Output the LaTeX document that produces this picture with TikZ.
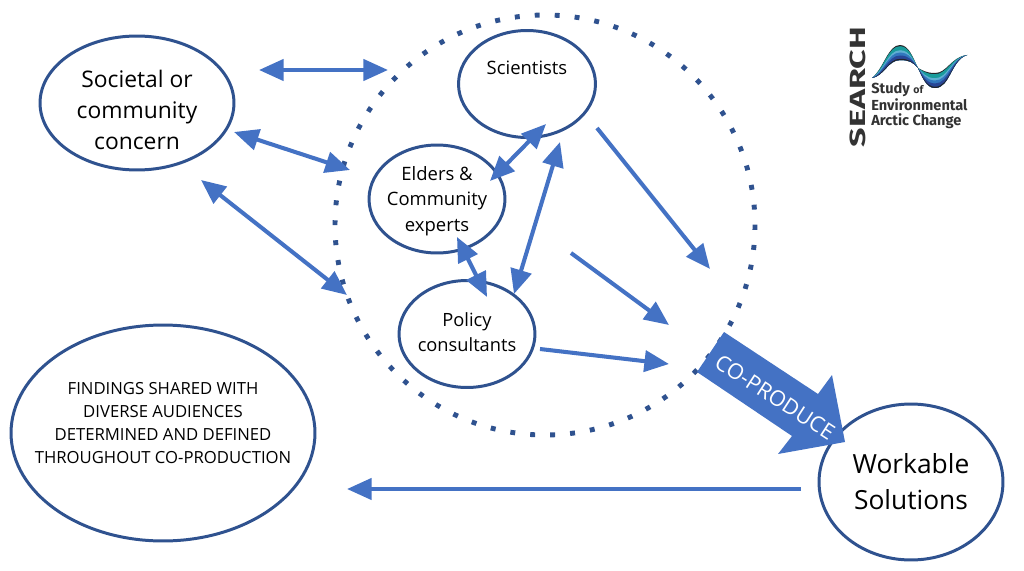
\documentclass[tikz,border=0pt]{standalone}
\usepackage{fontspec}
\setmainfont{Open Sans}
\newfontfamily\logofont{Fira Sans}
\usetikzlibrary{arrows.meta,shapes.geometric}
\definecolor{zx_blue}{RGB}{68, 114, 196}
\definecolor{zx_line}{RGB}{47, 82, 143}
\definecolor{wave_a}{RGB}{25, 155, 155}
\definecolor{wave_b}{RGB}{95, 175, 210}
\definecolor{wave_c}{RGB}{50, 120, 190}
\definecolor{wave_d}{RGB}{40, 70, 150}
\definecolor{wave_e}{RGB}{35, 35, 40}
\tikzstyle{en}=[ellipse,draw=zx_line,fill=white,line width=1.7pt,inner sep=-40pt,align=center]
\tikzstyle{ar}=[draw=zx_blue,line width=2.3pt,-{Triangle[length=14pt,width=12pt]}]
\tikzstyle{br}=[draw=zx_blue,line width=2.3pt,{Triangle[length=14pt,width=12pt]}-{Triangle[length=14pt,width=12pt]}]
\tikzstyle{logotext}=[text=black!80,inner sep=0pt]
\begin{document}
\begin{tikzpicture}[x=0.02cm,y=-0.02cm]
            \useasboundingbox (0,0) rectangle (1024,571);
            \node [style=en, minimum width=3.88cm, minimum height=2.68cm, font=\fontsize{13}{17.6}\selectfont] (0) at (137, 103) {\rule{0pt}{18pt}Societal or\\community\\concern};
            \node [style=en, minimum width=2.74cm, minimum height=2.14cm, font=\fontsize{10.5}{14}\selectfont, text depth=19pt] (1) at (527, 84) {Scientists};
            \node [style=en, minimum width=2.72cm, minimum height=2.16cm, font=\fontsize{10.5}{14.7}\selectfont] (2) at (437, 199) {\rule{0pt}{10.3pt}Elders \&\\Community\\experts};
            \node [style=en, minimum width=2.72cm, minimum height=2.14cm, font=\fontsize{10.4}{14.2}\selectfont] (3) at (467, 334) {Policy\\consultants\rule[-2.3pt]{0pt}{0pt}};
            \node [style=en, minimum width=6.08cm, minimum height=4.32cm, font=\fontsize{9.5}{13.2}\selectfont] (4) at (163, 433) {FINDINGS SHARED WITH\\DIVERSE AUDIENCES\\DETERMINED AND DEFINED\\THROUGHOUT CO-PRODUCTION\rule[-11.3pt]{0pt}{0pt}};
            \node [style=en, minimum width=3.68cm, minimum height=3.12cm, font=\fontsize{15}{20.4}\selectfont] (5) at (911, 482) {Workable\\Solutions};
            \draw [zx_line, line width=2.8pt, dash pattern=on 2.8pt off 8.577pt] (545, 225) circle [radius=210];
            \fill [zx_blue] (724, 332) -- (818, 394) -- (832, 375) -- (845, 442) -- (778, 454) -- (792, 436) -- (697, 372) -- cycle;
            \node [text=white, rotate=-33, inner sep=0pt, font=\fontsize{12.3}{12.3}\selectfont] (6) at (775, 397) {CO-PRODUCE};
            \coordinate (7) at (259, 70);
            \coordinate (8) at (388, 70);
            \coordinate (9) at (234, 132);
            \coordinate (10) at (350, 170);
            \coordinate (11) at (201, 180);
            \coordinate (12) at (347, 295);
            \coordinate (13) at (546, 124);
            \coordinate (14) at (490, 181);
            \coordinate (15) at (560, 142);
            \coordinate (16) at (514, 294);
            \coordinate (17) at (457, 237);
            \coordinate (18) at (487, 297);
            \coordinate (19) at (597, 128);
            \coordinate (20) at (710, 269);
            \coordinate (21) at (571, 253);
            \coordinate (22) at (669, 325);
            \coordinate (23) at (540, 349);
            \coordinate (24) at (669, 364);
            \coordinate (25) at (801, 489);
            \coordinate (26) at (347, 489);
            \draw [style=br] (7) to (8);
            \draw [style=br] (9) to (10);
            \draw [style=br] (11) to (12);
            \draw [style=br] (13) to (14);
            \draw [style=br] (15) to (16);
            \draw [style=br] (17) to (18);
            \draw [style=ar] (19) to (20);
            \draw [style=ar] (21) to (22);
            \draw [style=ar] (23) to (24);
            \draw [style=ar] (25) to (26);
            % logo
            \node [style=logotext, rotate=90, font=\logofont\bfseries\fontsize{12.5}{12.5}\selectfont] (27) at (858, 87) {\scalebox{1.55}[1]{SEARCH}};
            \node [style=logotext, anchor=west, font=\logofont\bfseries\fontsize{8.3}{8.3}\selectfont] (28) at (871, 90) {Study {\fontsize{6}{6}\selectfont of}};
            \node [style=logotext, anchor=west, font=\logofont\bfseries\fontsize{8.3}{8.3}\selectfont] (29) at (871, 105) {Environmental};
            \node [style=logotext, anchor=west, font=\logofont\bfseries\fontsize{8.3}{8.3}\selectfont] (30) at (871, 121) {Arctic Change};
            \foreach \t/\c in {0/wave_e, 0.08/wave_a, 0.35/wave_b, 0.5/wave_c, 0.7/wave_d, 0.92/wave_e}
              \fill [\c] (872, 78) .. controls (884, {68+8*\t}) and (888, {45+15*\t}) .. (900, {45+15*\t})
                .. controls (909, {45+15*\t}) and (913, {58+4*\t}) .. (918, 68)
                .. controls (922, {70+6*\t}) and (926, {73+15*\t}) .. (935, {73+15*\t})
                .. controls ({947+3*\t}, {73+15*\t}) and (951, {57+3*\t}) .. (967, 55)
                .. controls (951, 60) and (950, 88) .. (935, 88)
                .. controls (926, 88) and (922, 76) .. (918, 68)
                .. controls (913, 62) and (909, 60) .. (900, 60)
                .. controls (888, 60) and (884, 76) .. cycle;
\end{tikzpicture}
\end{document}
